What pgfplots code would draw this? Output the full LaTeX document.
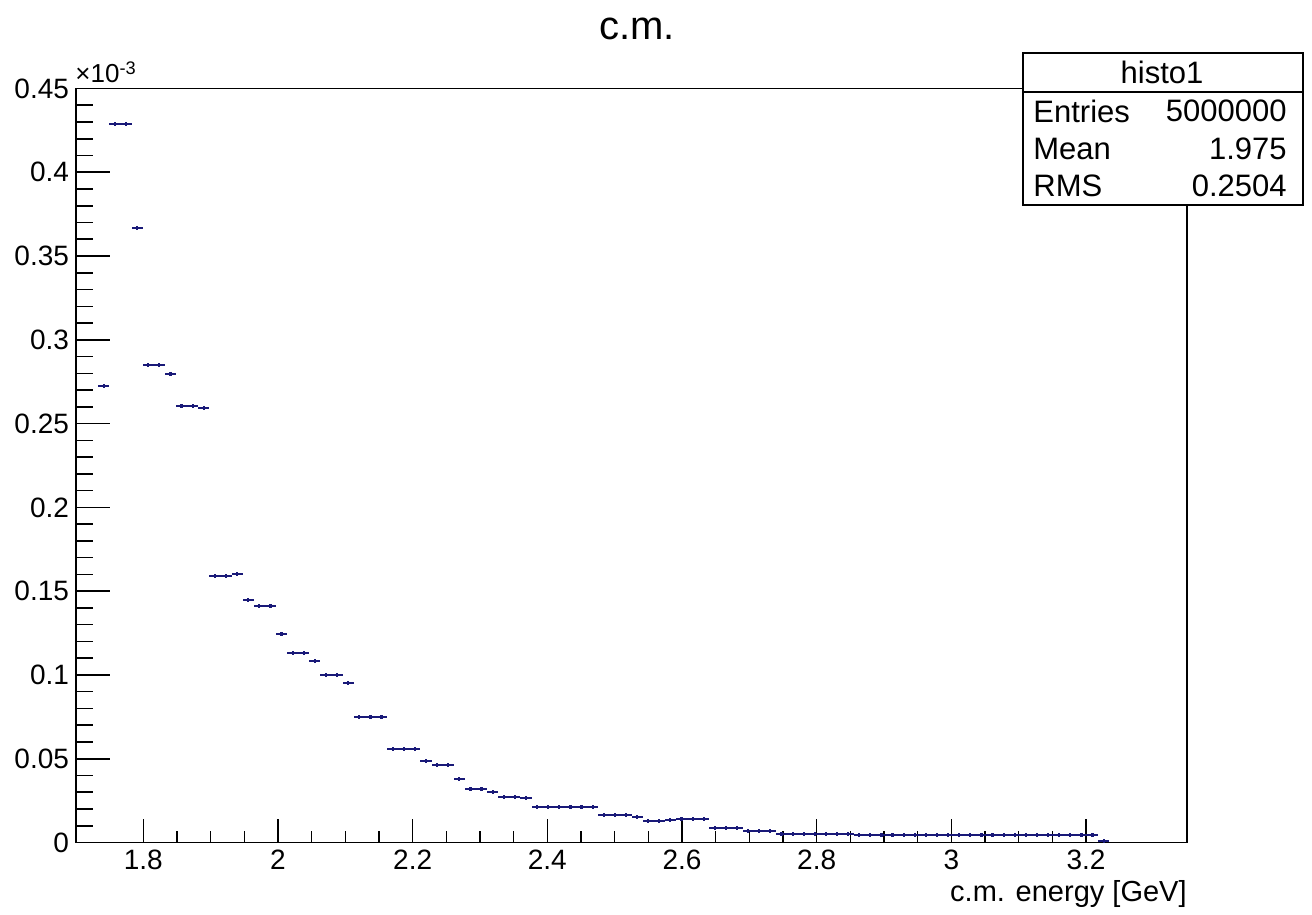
\documentclass[border=0pt]{standalone}
\usepackage{pgfplots}
\pgfplotsset{compat=1.18}
\usepackage{pgfplotstable}
\usepackage{fontspec}
\setmainfont{Liberation Sans}
\definecolor{histblue}{RGB}{25,25,120}

% bin centres (100 bins, 1.7 -- 3.35, width 0.0165), contents in units of 1e-3
\pgfplotstableread{
x y
1.74125 0.2724
1.75775 0.4288
1.77425 0.4288
1.79075 0.3667
1.80725 0.2852
1.82375 0.2848
1.84025 0.2796
1.85675 0.2606
1.87325 0.2604
1.88975 0.2593
1.90625 0.1590
1.92275 0.1592
1.93925 0.1602
1.95575 0.1447
1.97225 0.1412
1.98875 0.1410
2.00525 0.1245
2.02175 0.1132
2.03825 0.1130
2.05475 0.1085
2.07125 0.1001
2.08775 0.0999
2.10425 0.0954
2.12075 0.0750
2.13725 0.0750
2.15375 0.0749
2.17025 0.0560
2.18675 0.0558
2.20325 0.0558
2.21975 0.0487
2.23625 0.0464
2.25275 0.0462
2.26925 0.0380
2.28575 0.0321
2.30225 0.0319
2.31875 0.0301
2.33525 0.0273
2.35175 0.0272
2.36825 0.0266
2.38475 0.0212
2.40125 0.0212
2.41775 0.0212
2.43425 0.0212
2.45075 0.0212
2.46725 0.0212
2.48375 0.0164
2.50025 0.0164
2.51675 0.0164
2.53325 0.0150
2.54975 0.0128
2.56625 0.0128
2.58275 0.0134
2.59925 0.0142
2.61575 0.0142
2.63225 0.0142
2.64875 0.0087
2.66525 0.0087
2.68175 0.0087
2.69825 0.0069
2.71475 0.0069
2.73125 0.0069
2.74775 0.0051
2.76425 0.0051
2.78075 0.0051
2.79725 0.0051
2.81375 0.0051
2.83025 0.0051
2.84675 0.0051
2.86325 0.0046
2.87975 0.0046
2.89625 0.0046
2.91275 0.0046
2.92925 0.0046
2.94575 0.0046
2.96225 0.0046
2.97875 0.0046
2.99525 0.0046
3.01175 0.0046
3.02825 0.0046
3.04475 0.0046
3.06125 0.0046
3.07775 0.0046
3.09425 0.0046
3.11075 0.0046
3.12725 0.0046
3.14375 0.0046
3.16025 0.0046
3.17675 0.0046
3.19325 0.0046
3.20975 0.0046
3.22625 0.0008
}\histo

\begin{document}
\begin{tikzpicture}
  \path[use as bounding box] (0pt,0pt) rectangle (656pt,457.5pt);
  \begin{axis}[
    at={(38pt,36.25pt)}, anchor=south west,
    scale only axis, width=555.5pt, height=377pt,
    xmin=1.7, xmax=3.35, ymin=0, ymax=0.45,
    xtick={1.8,2,...,3.2}, minor x tick num=3,
    ytick={0,0.05,...,0.45}, minor y tick num=4,
    tick pos=left, tick align=inside,
    xtick style={/pgfplots/major tick length=11.5pt, /pgfplots/minor tick length=5.5pt},
    ytick style={/pgfplots/major tick length=17pt, /pgfplots/minor tick length=8.5pt},
    every tick/.style={black, line width=0.8pt},
    axis line style={line width=0.8pt},
    scaled ticks=false,
    yticklabel style={/pgf/number format/fixed, /pgf/number format/precision=2},
    ticklabel style={font=\fontsize{14}{16}\selectfont},
    /pgf/number format/assume math mode=true,
    xlabel={c.m. energy [GeV]},
    xlabel style={at={(axis description cs:1,0)}, anchor=north east,
      inner sep=0pt, yshift=-19pt, font=\fontsize{14.5}{17}\selectfont},
  ]
    \addplot[draw=none, mark=none,
      error bars/.cd, x dir=both, x fixed=0.00825, y dir=both, y fixed=0.0012,
      error mark=none, error bar style={line width=1.1pt, draw=histblue}]
      table[x=x, y=y] {\histo};
  \end{axis}
  \node[font=\fontsize{20}{24}\selectfont, anchor=base] at (318.5pt,437.5pt) {c.m.};
  \node[font=\fontsize{13}{15}\selectfont, anchor=base west, inner sep=0pt] at (37.5pt,416pt) {×10\textsuperscript{-3}};
  % stats box
  \draw[line width=0.8pt, fill=white] (511.5pt,355pt) rectangle (651.5pt,431pt);
  \draw[line width=0.8pt] (511.5pt,411.5pt) -- (651.5pt,411.5pt);
  \begin{scope}[every node/.style={font=\fontsize{15.5}{18}\selectfont, inner sep=0pt}]
    \node at (581pt,421.5pt) {histo1};
    \node[anchor=west] at (516.5pt,402pt) {Entries};
    \node[anchor=east] at (643.5pt,402pt) {5000000};
    \node[anchor=west] at (516.5pt,383pt) {Mean};
    \node[anchor=east] at (643.5pt,383pt) {1.975};
    \node[anchor=west] at (516.5pt,364.5pt) {RMS};
    \node[anchor=east] at (643.5pt,364.5pt) {0.2504};
  \end{scope}
\end{tikzpicture}
\end{document}
